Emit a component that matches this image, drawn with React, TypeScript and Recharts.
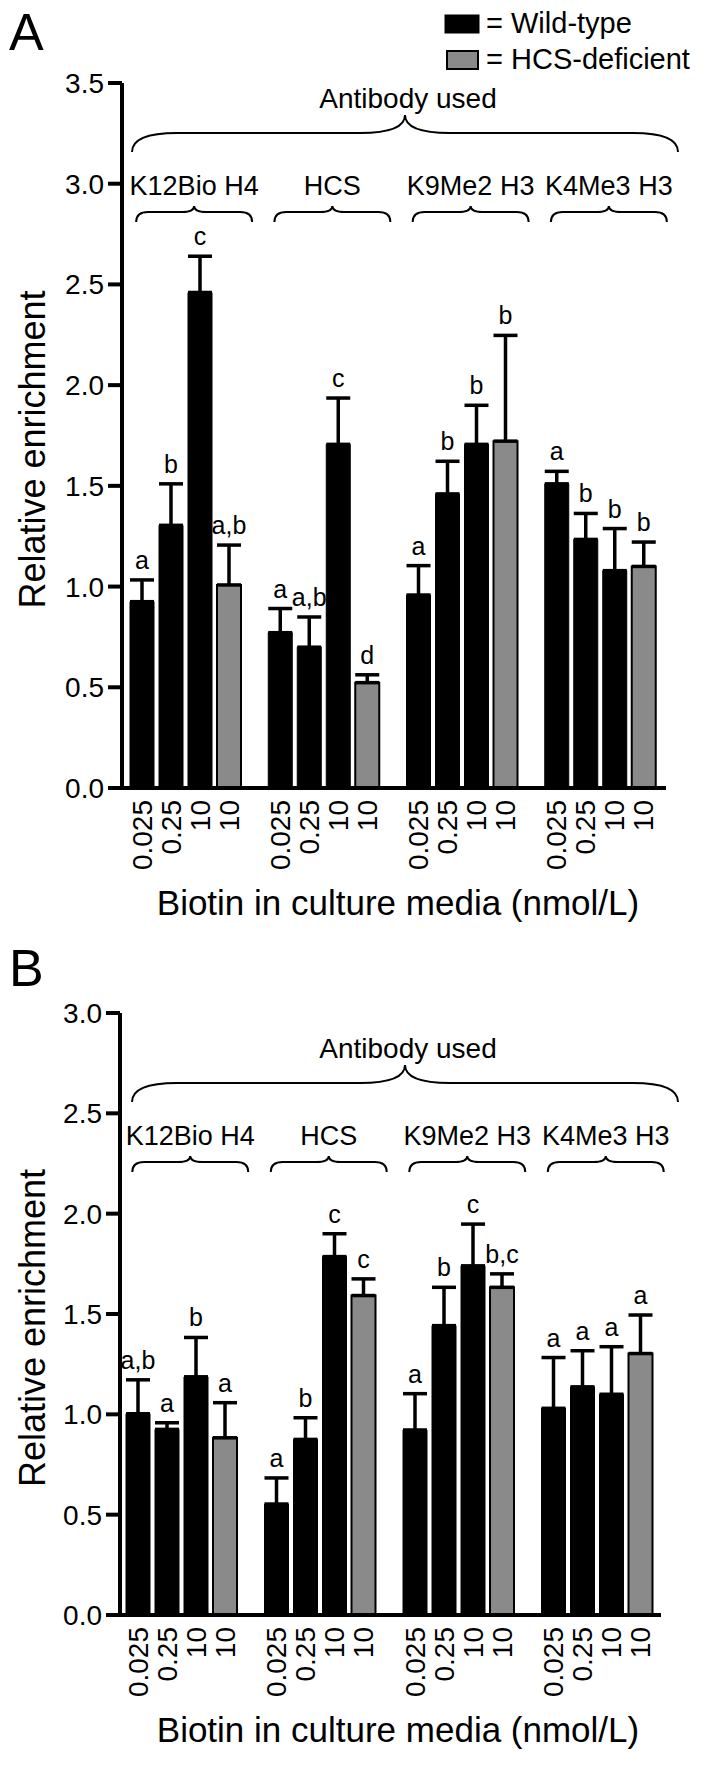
import React from 'react';
import { BarChart, Bar, XAxis, YAxis, ErrorBar, LabelList, Customized } from 'recharts';

const groups = ['K12Bio H4', 'HCS', 'K9Me2 H3', 'K4Me3 H3'];
const doses = ['0.025', '0.25', '10', '10'];

// Panel A means and upper error (SEM)
const aWt0025 = [0.925, 0.771, 0.958, 1.51];
const aWt025 = [1.304, 0.699, 1.46, 1.234];
const aWt10 = [2.46, 1.706, 1.706, 1.079];
const aDef10 = [1.008, 0.523, 1.722, 1.1];
const aErr0025 = [0.108, 0.12, 0.146, 0.062];
const aErr025 = [0.206, 0.15, 0.162, 0.129];
const aErr10 = [0.18, 0.23, 0.194, 0.209];
const aErrDef = [0.198, 0.039, 0.525, 0.121];
const aLet0025 = ['a', 'a', 'a', 'a'];
const aLet025 = ['b', 'a,b', 'b', 'b'];
const aLet10 = ['c', 'c', 'b', 'b'];
const aLetDef = ['a,b', 'd', 'b', 'b'];

// Panel B
const bWt0025 = [1.003, 0.553, 0.922, 1.03];
const bWt025 = [0.925, 0.875, 1.442, 1.137];
const bWt10 = [1.187, 1.786, 1.74, 1.1];
const bDef10 = [0.883, 1.592, 1.633, 1.303];
const bErr0025 = [0.169, 0.13, 0.181, 0.253];
const bErr025 = [0.033, 0.108, 0.191, 0.18];
const bErr10 = [0.196, 0.114, 0.208, 0.237];
const bErrDef = [0.175, 0.083, 0.067, 0.192];
const bLet0025 = ['a,b', 'a', 'a', 'a'];
const bLet025 = ['a', 'b', 'b', 'a'];
const bLet10 = ['b', 'c', 'c', 'a'];
const bLetDef = ['a', 'c', 'b,c', 'a'];

const aTicks = [0, 0.5, 1, 1.5, 2, 2.5, 3, 3.5];
const bTicks = [0, 0.5, 1, 1.5, 2, 2.5, 3];

const FONT = '"Liberation Sans", Arial, Helvetica, sans-serif';
const WT = '#000000';
const DEF = '#8a8a8a';
const fills = [WT, WT, WT, DEF];

function buildRows(means: number[][], errs: number[][]) {
  return groups.map((g, i) => {
    const row: any = { group: g, idx: i };
    means.forEach((m, s) => {
      row[`m${s}`] = m[i];
      row[`e${s}`] = [0, errs[s][i]];
    });
    return row;
  });
}

function brace(x0: number, x1: number, yEnd: number, yArm: number, yPeak: number, r: number) {
  const xm = (x0 + x1) / 2;
  return `M${x0},${yEnd} Q${x0},${yArm} ${x0 + r},${yArm} L${xm - r},${yArm} Q${xm},${yArm} ${xm},${yPeak} ` +
    `Q${xm},${yArm} ${xm + r},${yArm} L${x1 - r},${yArm} Q${x1},${yArm} ${x1},${yEnd}`;
}

const boxOf = (p: any) => {
  const vb = p.viewBox && p.viewBox.width !== undefined ? p.viewBox : p;
  return { x: Number(vb.x), y: Number(vb.y), width: Number(vb.width), height: Number(vb.height) };
};

const letterContent = (means: number[], errs: number[], letters: string[]) => (p: any) => {
  const { x, y, width, height } = boxOf(p);
  const i = Number(p.value);
  const capY = y - errs[i] * (height / means[i]);
  return (
    <text x={x + width / 2} y={capY - 11} textAnchor="middle" fontSize={25} fontFamily={FONT} fill="#000">
      {letters[i]}
    </text>
  );
};

const doseContent = (label: string) => (p: any) => {
  const { x, y, width, height } = boxOf(p);
  const cx = x + width / 2;
  const ty = y + height + 12;
  return (
    <text x={cx} y={ty} transform={`rotate(-90 ${cx} ${ty})`} textAnchor="end" dominantBaseline="central"
      fontSize={28} fontFamily={FONT} fill="#000">
      {label}
    </text>
  );
};

const GroupTick = (base: number) => (p: any) => {
  const cx = Number(p.x) + 9;
  return (
    <g>
      <text x={cx} y={base} textAnchor="middle" fontSize={27} fontFamily={FONT} fill="#000">
        {p.payload.value}
      </text>
      <path d={brace(cx - 58, cx + 58, base + 27, base + 17, base + 11, 12)} fill="none" stroke="#000" strokeWidth={2} />
    </g>
  );
};

interface PanelProps {
  means: number[][];
  errs: number[][];
  letters: string[][];
  yMax: number;
  ticks: number[];
  height: number;
  axisWidth: number;
  rightMargin: number;
  padding: { left: number; right: number };
  bottomHeight: number;
  letter: string;
  letterY: number;
  ann: number;
  legend?: boolean;
}

function Panel(props: PanelProps) {
  const { means, errs, letters, yMax, ticks, height, axisWidth, rightMargin, padding, bottomHeight, letter, letterY, ann, legend } = props;
  const rows = buildRows(means, errs);
  const plotTop = 83;
  const plotBottom = height - bottomHeight;
  const midY = (plotTop + plotBottom) / 2 + 14;

  const Overlay = () => (
    <g fontFamily={FONT} fill="#000">
      <text x={9} y={letterY} fontSize={52}>{letter}</text>
      {legend && (
        <g>
          <rect x={445} y={15} width={34} height={18} fill={WT} stroke="#000" />
          <text x={486} y={33} fontSize={29}>= Wild-type</text>
          <rect x={447} y={51} width={31} height={18} fill={DEF} stroke="#000" strokeWidth={2} />
          <text x={486} y={69} fontSize={29}>= HCS-deficient</text>
        </g>
      )}
      <text x={408} y={ann} textAnchor="middle" fontSize={28}>Antibody used</text>
      <path d={brace(132, 678, ann + 44, ann + 25, ann + 7, 45)} fill="none" stroke="#000" strokeWidth={2} />
      <text x={32} y={midY} transform={`rotate(-90 32 ${midY})`}
        textAnchor="middle" dominantBaseline="central" fontSize={36}>
        Relative enrichment
      </text>
      <text x={398} y={plotBottom + 127} textAnchor="middle" fontSize={35}>Biotin in culture media (nmol/L)</text>
    </g>
  );

  return (
    <BarChart width={712} height={height} data={rows} barGap={5}
      margin={{ top: 0, right: rightMargin, left: 0, bottom: 0 }}>
      <XAxis xAxisId="top" orientation="top" dataKey="group" height={plotTop} axisLine={false} tickLine={false}
        interval={0} padding={padding} tick={GroupTick(ann + 87)} />
      <XAxis xAxisId="b" dataKey="group" height={bottomHeight} tick={false} tickLine={false} padding={padding}
        axisLine={{ stroke: '#000', strokeWidth: 4 }} />
      <YAxis width={axisWidth} domain={[0, yMax]} ticks={ticks} interval={0} tickFormatter={(v: number) => v.toFixed(1)}
        axisLine={{ stroke: '#000', strokeWidth: 4 }} tickLine={{ stroke: '#000', strokeWidth: 4 }} tickSize={14}
        tickMargin={4} tick={{ fill: '#000', fontSize: 28, fontFamily: FONT }} />
      {means.map((m, s) => (
        <Bar key={s} xAxisId="b" dataKey={`m${s}`} fill={fills[s]} stroke="#000" strokeWidth={s === 3 ? 2 : 1}
          barSize={24} isAnimationActive={false}>
          <ErrorBar dataKey={`e${s}`} width={12} stroke="#000" strokeWidth={3.5} direction="y" />
          <LabelList dataKey="idx" content={letterContent(m, errs[s], letters[s])} />
          <LabelList dataKey={`m${s}`} content={doseContent(doses[s])} />
        </Bar>
      ))}
      <Customized component={Overlay} />
    </BarChart>
  );
}

export default function App() {
  return (
    <div style={{ position: 'absolute', left: 0, top: 0, width: 712, height: 1767, background: '#fff' }}>
      <Panel
        means={[aWt0025, aWt025, aWt10, aDef10]}
        errs={[aErr0025, aErr025, aErr10, aErrDef]}
        letters={[aLet0025, aLet025, aLet10, aLetDef]}
        yMax={3.5}
        ticks={aTicks}
        height={930}
        axisWidth={122}
        rightMargin={46}
        padding={{ left: -6, right: -3 }}
        bottomHeight={142}
        letter="A"
        letterY={50}
        ann={108}
        legend
      />
      <Panel
        means={[bWt0025, bWt025, bWt10, bDef10]}
        errs={[bErr0025, bErr025, bErr10, bErrDef]}
        letters={[bLet0025, bLet025, bLet10, bLetDef]}
        yMax={3}
        ticks={bTicks}
        height={837}
        axisWidth={120}
        rightMargin={51}
        padding={{ left: -8, right: -5 }}
        bottomHeight={152}
        letter="B"
        letterY={56}
        ann={128}
      />
    </div>
  );
}
